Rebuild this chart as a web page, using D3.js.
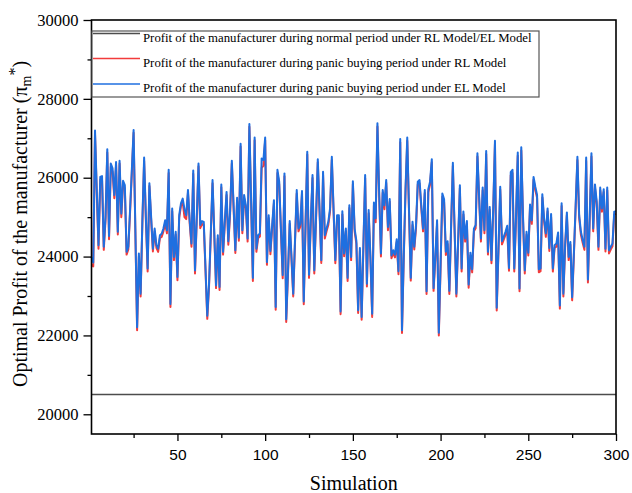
<!DOCTYPE html>
<html>
<head>
<meta charset="utf-8">
<script src="https://cdn.jsdelivr.net/npm/d3@7/dist/d3.min.js"></script>
<style>
  body { margin: 0; background: #fff; }
  svg { display: block; }
</style>
</head>
<body>
<div id="chart"></div>
<script>
// profit of the manufacturer, panic buying period, EL model (blue)
const profitEL = [
  23990, 23850, 27200, 25700, 24290, 26020, 26040, 24250, 25000, 26720,
  24520, 26360, 26240, 25560, 26400, 24630, 26430, 25090, 25920, 25810,
  24120, 24250, 25200, 26200, 27210, 24700, 22210, 24080, 23060, 24900,
  26510, 25000, 23700, 25860, 25000, 24200, 24710, 24290, 24200, 24540,
  24580, 24710, 24920, 24670, 26200, 22800, 25220, 23990, 24630, 23480,
  25050, 25350, 25470, 25200, 25050, 25690, 24900, 24330, 26180, 23650,
  25000, 26360, 24800, 24900, 24880, 23700, 22500, 23300, 24600, 25940,
  24600, 23270, 24540, 23230, 25830, 24120, 24900, 25640, 24390, 25140,
  26430, 25300, 24160, 25490, 24480, 26860, 24670, 25560, 25300, 24460,
  27360, 25400, 23460, 27020, 24200, 24540, 24590, 26490, 26450, 27020,
  23860, 25050, 24140, 24800, 25430, 22720, 26200, 25900, 24700, 23530,
  26110, 22410, 23600, 24900, 24000, 23060, 24400, 25690, 24710, 24840,
  25660, 22860, 24800, 26660, 23540, 24900, 26070, 23650, 25000, 26470,
  25200, 23910, 26150, 24540, 24710, 24880, 25220, 26530, 25200, 23910,
  25050, 25050, 22610, 25150, 24080, 24710, 23460, 25300, 23990, 25910,
  24710, 24400, 22640, 24220, 22470, 24300, 26070, 23310, 25180, 24000,
  22550, 25370, 24970, 27380, 25600, 24080, 25690, 25300, 25940, 24750,
  25460, 24030, 24160, 24050, 24440, 23630, 26980, 22130, 24000, 25700,
  27020, 25200, 23460, 24880, 24250, 24800, 25900, 25940, 25300, 24710,
  25690, 23120, 25710, 25900, 26470, 23200, 24000, 24920, 22070, 23800,
  25600, 25450, 24120, 24390, 23130, 24800, 26380, 24700, 23060, 24400,
  25810, 23700, 25140, 24460, 24900, 23290, 24100, 23680, 24710, 24800,
  26620, 25500, 24460, 25750, 24670, 26680, 24120, 25260, 23910, 25200,
  26940, 22700, 24200, 25770, 24390, 24500, 24630, 24780, 23710, 26140,
  26200, 23700, 25000, 26640, 23190, 26770, 25000, 23650, 24630, 24100,
  25320, 24920, 26020, 25770, 25560, 23680, 23700, 25580, 24970, 24590,
  25220, 24220, 25080, 23700, 24290, 24330, 24610, 22760, 25350, 23060,
  24300, 25120, 23990, 24370, 22970, 24100, 25300, 26530, 25050, 24630,
  24420, 24250, 26510, 23420, 25000, 26620, 24710, 25830, 25400, 24250,
  25750, 25220, 25710, 24200, 25750, 24160, 24250, 24330, 25140, 25150
];

// profit of the manufacturer, panic buying period, RL model (red)
const profitRL = [
  23790, 23750, 27100, 25620, 24200, 25950, 25960, 24170, 24930, 26640,
  24440, 26280, 26150, 25480, 26330, 24560, 26360, 25000, 25850, 25730,
  24050, 24180, 25130, 26130, 27140, 24630, 22130, 24000, 22990, 24830,
  26430, 24930, 23620, 25790, 24930, 24130, 24640, 24220, 24120, 24470,
  24500, 24640, 24840, 24590, 26120, 22720, 25150, 23910, 24560, 23400,
  24980, 25280, 25380, 25000, 24950, 25620, 24830, 24250, 26100, 23570,
  24930, 26290, 24720, 24830, 24800, 23630, 22420, 23230, 24530, 25860,
  24530, 23200, 24460, 23150, 25760, 24050, 24830, 25560, 24300, 25070,
  26360, 25230, 24090, 25410, 24400, 26790, 24590, 25480, 25230, 24380,
  27290, 25320, 23380, 26950, 24120, 24470, 24510, 26250, 26300, 26950,
  23790, 24980, 24060, 24730, 25350, 22650, 26120, 25830, 24620, 23450,
  26040, 22340, 23530, 24830, 23930, 22990, 24330, 25600, 24640, 24760,
  25590, 22790, 24720, 26590, 23460, 24830, 25990, 23570, 24930, 26390,
  25130, 23840, 26070, 24460, 24640, 24800, 25150, 26450, 25130, 23830,
  24970, 24980, 22540, 25070, 24010, 24640, 23380, 25230, 23910, 25840,
  24640, 24320, 22570, 24150, 22400, 24230, 25990, 23240, 25100, 23930,
  22470, 25300, 24870, 27300, 25520, 24000, 25620, 25200, 25870, 24670,
  25390, 23960, 24090, 23980, 24370, 23550, 26900, 22060, 23930, 25620,
  26940, 25130, 23390, 24800, 24180, 24720, 25830, 25860, 25230, 24640,
  25610, 23050, 25630, 25830, 26390, 23130, 23930, 24840, 22000, 23730,
  25520, 25380, 24040, 24320, 23050, 24730, 26300, 24630, 22990, 24320,
  25740, 23620, 25070, 24380, 24830, 23210, 24030, 23600, 24640, 24720,
  26540, 25430, 24380, 25680, 24590, 26600, 24050, 25190, 23830, 25130,
  26860, 22630, 24130, 25700, 24310, 24430, 24550, 24700, 23640, 26060,
  26120, 23620, 24930, 26560, 23120, 26690, 24930, 23570, 24560, 24030,
  25250, 24830, 25950, 25690, 25490, 23600, 23630, 25500, 24900, 24500,
  25150, 24140, 25010, 23620, 24220, 24250, 24540, 22680, 25280, 22990,
  24230, 25050, 23910, 24300, 22890, 24030, 25230, 26450, 24980, 24550,
  24350, 24170, 26430, 23340, 24930, 26540, 24640, 25750, 25330, 24170,
  25680, 25140, 25640, 24130, 25680, 24080, 24180, 24260, 25070, 25080
];

// normal period profit (same for RL and EL model)
const profitNormal = 20500;

const yTicks = [20000, 22000, 24000, 26000, 28000, 30000];
const yMinorTicks = [21000, 23000, 25000, 27000, 29000];
const xTicks = [50, 100, 150, 200, 250, 300];
const xMinorTicks = [25, 75, 125, 175, 225, 275];

const legendLabels = [
  "Profit of the manufacturer during normal period under RL Model/EL Model",
  "Profit of the manufacturer during panic buying period under RL Model",
  "Profit of the manufacturer during panic buying period under EL Model"
];
const colors = ["#4d4d4d", "#f23b3b", "#1f6fe0"];

const W = 632, H = 493;
const margin = { top: 20, right: 16, bottom: 59, left: 91.5 };
const width = W - margin.left - margin.right,
      height = H - margin.top - margin.bottom;

const svg = d3.select("#chart")
  .append("svg")
  .attr("width", W)
  .attr("height", H);

const chart = svg.append("g")
  .attr("transform", `translate(${margin.left},${margin.top})`);

const x = d3.scaleLinear().domain([1, 300]).range([0, width]);
const y = d3.scaleLinear().domain([19500, 30000]).range([height, 0]);

const serif = "'Liberation Serif', 'Times New Roman', serif";
const sans = "'Liberation Sans', Arial, sans-serif";

// normal period line
chart.append("line")
  .attr("x1", x(1)).attr("x2", x(300))
  .attr("y1", y(profitNormal)).attr("y2", y(profitNormal))
  .attr("stroke", colors[0])
  .attr("stroke-width", 1.5);

const line = d3.line()
  .x((d, i) => x(i + 1))
  .y(d => y(d));

chart.append("path")
  .datum(profitRL)
  .attr("d", line)
  .attr("fill", "none")
  .attr("stroke", colors[1])
  .attr("stroke-width", 2)
  .attr("stroke-linejoin", "round");

chart.append("path")
  .datum(profitEL)
  .attr("d", line)
  .attr("fill", "none")
  .attr("stroke", colors[2])
  .attr("stroke-width", 2)
  .attr("stroke-linejoin", "round");

// axes
const yAxis = chart.append("g")
  .call(d3.axisLeft(y).tickValues(yTicks).tickSize(8).tickSizeOuter(0).tickPadding(5).tickFormat(d3.format("d")));
chart.append("g")
  .call(d3.axisLeft(y).tickValues(yMinorTicks).tickSize(4).tickSizeOuter(0).tickFormat(""));
yAxis.selectAll("text")
  .style("font-family", serif)
  .style("font-size", "16.5px")
  .attr("fill", "#000");

const xAxis = chart.append("g")
  .attr("transform", `translate(0,${height})`)
  .call(d3.axisBottom(x).tickValues(xTicks).tickSize(7).tickSizeOuter(0).tickPadding(8));
chart.append("g")
  .attr("transform", `translate(0,${height})`)
  .call(d3.axisBottom(x).tickValues(xMinorTicks).tickSize(4).tickSizeOuter(0).tickFormat(""));
xAxis.selectAll("text")
  .style("font-family", sans)
  .style("font-size", "15.5px")
  .attr("fill", "#000");

chart.selectAll(".domain").remove();
chart.selectAll(".tick line").attr("stroke", "#000").attr("stroke-width", 1.3);

// frame
chart.append("rect")
  .attr("width", width)
  .attr("height", height)
  .attr("fill", "none")
  .attr("stroke", "#000")
  .attr("stroke-width", 1.6);

// axis titles
svg.append("text")
  .attr("x", margin.left + width / 2)
  .attr("y", 490)
  .attr("text-anchor", "middle")
  .style("font-family", serif)
  .style("font-size", "20px")
  .text("Simulation");

const yTitle = svg.append("text")
  .attr("transform", `translate(27,224) rotate(-90)`)
  .attr("text-anchor", "middle")
  .style("font-family", serif)
  .style("font-size", "20px");
yTitle.append("tspan").text("Optimal Profit of the manufacturer (\u03c0");
yTitle.append("tspan").attr("dy", 4).style("font-size", "14px").text("m");
yTitle.append("tspan").attr("dy", -11).style("font-size", "16px").text("*");
yTitle.append("tspan").attr("dy", 7).text(")");

// legend
const legend = svg.append("g");
legend.append("rect")
  .attr("x", 92).attr("y", 31)
  .attr("width", 447).attr("height", 66)
  .attr("fill", "#fff")
  .attr("stroke", "#555")
  .attr("stroke-width", 1.2);

const rows = legend.selectAll("g.row")
  .data(legendLabels)
  .enter()
  .append("g")
  .attr("class", "row")
  .attr("transform", (d, i) => `translate(0,${[33.5, 58.5, 84][i]})`);

rows.append("line")
  .attr("x1", 93).attr("x2", 140)
  .attr("stroke", (d, i) => colors[i])
  .attr("stroke-width", 1.6);

rows.append("text")
  .attr("x", 143)
  .attr("y", 8)
  .style("font-family", serif)
  .style("font-size", "12.8px")
  .text(d => d);
</script>
</body>
</html>
